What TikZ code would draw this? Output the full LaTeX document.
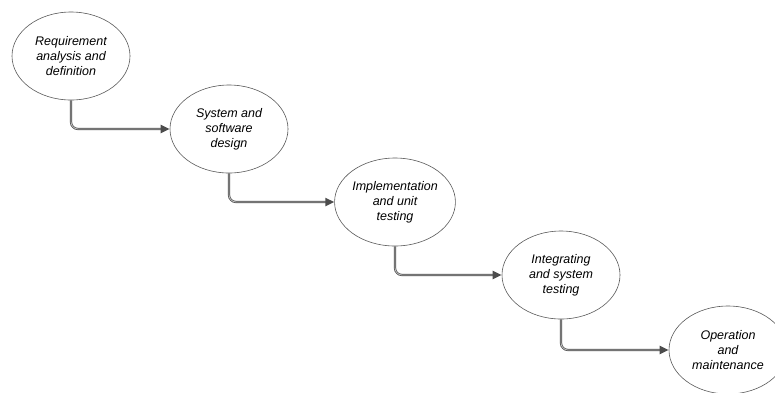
\documentclass[tikz,border=0pt]{standalone}
\usepackage{fontspec}
\setmainfont{Liberation Sans}
\usetikzlibrary{shapes.geometric,arrows.meta}
\tikzset{
  phase/.style={ellipse, draw=black!65, line width=0.6pt, fill=white,
    minimum width=118pt, minimum height=88pt, inner sep=0pt, align=center,
    font=\fontsize{12.5}{15}\selectfont\itshape},
  flowbase/.style={draw=black!70, line width=2.2pt, rounded corners=7pt,
    -{Triangle[length=9pt,width=8pt]}},
  flowcore/.style={draw=black!25, line width=0.8pt, rounded corners=7pt, shorten >=9pt}
}
\begin{document}
\begin{tikzpicture}[x=1pt,y=-1pt]
\useasboundingbox (0,0) rectangle (775,392);
\clip (0,0) rectangle (775,392);
\node[phase] (e1) at (71,56) {Requirement\\analysis and\\definition};
\node[phase] (e2) at (229,129) {System and\\software\\design};
\node[phase] (e3) at (395,202) {Implementation\\and unit\\testing};
\node[phase] (e4) at (561,275) {Integrating\\and system\\testing};
\node[phase] (e5) at (728,350) {Operation\\and\\maintenance};
\foreach \a/\b in {e1/e2,e2/e3,e3/e4,e4/e5}{
  \draw[flowbase] (\a.south) |- (\b.west);
  \draw[flowcore] (\a.south) |- (\b.west);
}
\end{tikzpicture}
\end{document}
